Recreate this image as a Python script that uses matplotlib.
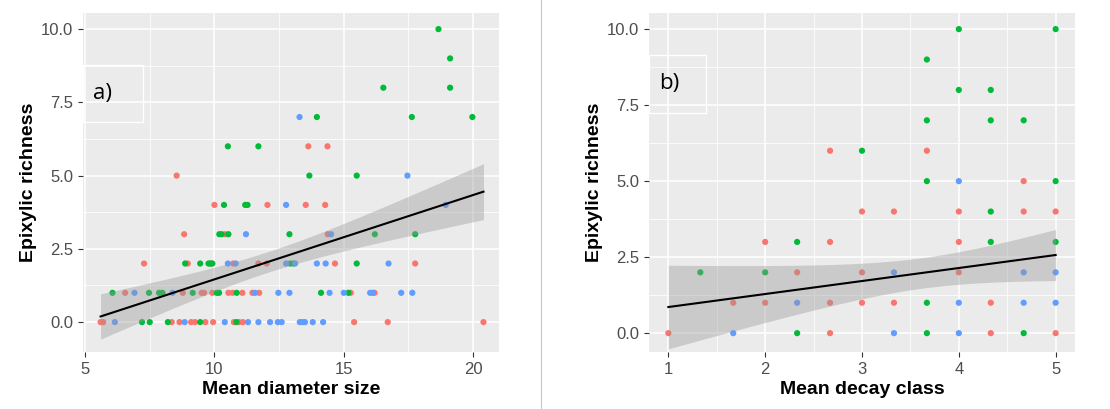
import matplotlib.pyplot as plt
from matplotlib.lines import Line2D
from matplotlib.patches import Rectangle
import numpy as np

RED, GREEN, BLUE = '#F8766D', '#00BA38', '#619CFF'

# panel a) - mean diameter size vs epixylic richness, per colour group
diam_red = [5.6, 5.7, 8.35, 8.65, 9.1, 9.25, 9.65, 9.95, 10.75, 10.95, 11.1, 15.4, 16.7, 20.4,
            6.55, 8.78, 9.51, 9.6, 9.92, 10.54, 10.7, 11.08, 11.47, 11.73, 15.27, 16.19,
            7.28, 8.97, 9.88, 10.73, 11.7, 12.02, 14.66, 17.76,
            8.83, 10.41, 14.38,
            10.0, 12.05, 13.53, 14.28,
            8.54, 13.63, 14.37]
rich_red = [0] * 14 + [1] * 12 + [2] * 8 + [3] * 3 + [4] * 4 + [5] + [6] * 2

diam_green = [7.2, 7.5, 8.2, 9.45, 10.85,
              6.06, 7.47, 7.86, 7.99, 9.16, 10.09, 10.18, 10.86, 14.12, 15.18,
              8.87, 9.45, 9.77, 9.83, 9.92, 12.93, 13.05, 15.5,
              10.19, 10.28, 10.54, 12.9, 16.2, 17.76,
              10.37, 11.19, 11.28,
              13.67, 15.5,
              10.52, 11.7,
              13.96, 17.63, 19.97,
              16.53, 19.11,
              19.11,
              18.66]
rich_green = ([0] * 5 + [1] * 10 + [2] * 8 + [3] * 6 + [4] * 3 + [5] * 2 + [6] * 2
              + [7] * 3 + [8] * 2 + [9] + [10])

diam_blue = [6.15, 8.85, 10.4, 11.3, 11.7, 12.15, 12.45, 12.6, 13.3, 13.4, 13.5, 13.8, 14.2,
             6.91, 8.38, 11.57, 12.47, 12.9, 14.45, 15.0, 16.02, 16.12, 17.22, 17.65,
             10.52, 10.82, 12.77, 13.12, 13.96, 14.3, 16.73,
             11.22, 14.51,
             12.77, 18.94,
             17.46,
             13.29]
rich_blue = [0] * 13 + [1] * 11 + [2] * 7 + [3] * 2 + [4] * 2 + [5] + [7]

# panel b) - mean decay class vs epixylic richness
# n2_* = estimated number of overlapping observations behind each visible dot
decay_red = [1, 2.67, 4.33, 5, 1.67, 2, 2.67, 3, 3.33, 4.33, 2.33, 3, 4, 2, 2.67, 4,
             3, 3.33, 4, 4.67, 5, 4.67, 2.67, 3.67]
rich2_red = [0, 0, 0, 0, 1, 1, 1, 1, 1, 1, 2, 2, 2, 3, 3, 3, 4, 4, 4, 4, 4, 5, 6, 6]
n2_red = [2, 4, 4, 4, 1, 2, 3, 1, 3, 4, 1, 1, 1, 1, 1, 1, 1, 1, 1, 1, 1, 1, 1, 1]

decay_green = [2.33, 3.67, 4.67, 3.67, 1.33, 2, 2.33, 4.33, 5, 4.33, 3.67, 5, 3,
               3.67, 4.33, 4.67, 4, 4.33, 3.67, 4, 5]
rich2_green = [0, 0, 0, 1, 2, 2, 3, 3, 3, 4, 5, 5, 6, 7, 7, 7, 8, 8, 9, 10, 10]
n2_green = [1, 4, 4, 4, 1, 1, 1, 1, 1, 1, 1, 1, 1, 1, 1, 1, 1, 1, 1, 1, 1]

decay_blue = [1.67, 3.33, 4, 2.33, 4, 4.67, 5, 3.33, 4.67, 5, 4]
rich2_blue = [0, 0, 0, 1, 1, 1, 1, 2, 2, 2, 5]
n2_blue = [3, 3, 4, 1, 5, 3, 1, 1, 1, 1, 1]


def lm_ribbon(x, y, t=1.98):
    """OLS fit with a 95% confidence band, like geom_smooth(method='lm')."""
    x, y = np.asarray(x, float), np.asarray(y, float)
    b, a = np.polyfit(x, y, 1)
    resid = y - (a + b * x)
    s = np.sqrt(np.sum(resid ** 2) / (len(x) - 2))
    xs = np.linspace(x.min(), x.max(), 100)
    se = s * np.sqrt(1 / len(x) + (xs - x.mean()) ** 2 / np.sum((x - x.mean()) ** 2))
    fit = a + b * xs
    return xs, fit, fit - t * se, fit + t * se


def panel(ax, groups, xlim, ylim, xmajor, xminor, xlabel, tag, tagbox):
    ax.set_facecolor('#EBEBEB')
    for s in ax.spines.values():
        s.set_visible(False)
    ax.set_xlim(xlim)
    ax.set_ylim(ylim)
    ax.set_xticks(xmajor)
    ax.set_xticks(xminor, minor=True)
    ax.set_yticks([0, 2.5, 5, 7.5, 10])
    ax.set_yticklabels(['0.0', '2.5', '5.0', '7.5', '10.0'])
    ax.set_yticks([1.25, 3.75, 6.25, 8.75], minor=True)
    ax.grid(which='major', color='white', lw=1.1)
    ax.grid(which='minor', color='white', lw=0.55)
    ax.set_axisbelow(True)
    ax.tick_params(which='major', length=3.5, width=0.8, color='#333333',
                   labelcolor='#4D4D4D', labelsize=12)
    ax.tick_params(which='minor', length=0)

    fit_x, fit_y = [], []
    for x, y, c, n in groups:
        ax.scatter(x, y, s=20, color=c, edgecolors='none', zorder=3)
        reps = n if n is not None else [1] * len(x)
        fit_x.append(np.repeat(x, reps))
        fit_y.append(np.repeat(y, reps))

    xs, fit, lo, hi = lm_ribbon(np.concatenate(fit_x), np.concatenate(fit_y))
    ax.fill_between(xs, lo, hi, color='#999999', alpha=0.4, lw=0, zorder=4)
    ax.plot(xs, fit, color='black', lw=1.5, zorder=5)

    ax.set_xlabel(xlabel, fontsize=14, fontweight='bold', labelpad=3)
    ax.set_ylabel('Epixylic richness', fontsize=14, fontweight='bold', labelpad=3)

    fig = ax.figure
    x0, y0, w, h = tagbox
    fig.add_artist(Rectangle((x0, y0), w, h, transform=fig.transFigure,
                             fill=False, edgecolor='white', lw=1))
    fig.text(x0 + 0.009, y0 + h / 2, tag, fontsize=16, family='Open Sans',
             va='center', ha='left')


plt.rcParams['font.family'] = ['Liberation Sans', 'DejaVu Sans']

fig = plt.figure(figsize=(11.1, 4.09), dpi=100)
W, H = 1110, 409

ax1 = fig.add_axes([83 / W, 1 - 352 / H, 416 / W, 339 / H])
panel(ax1,
      [(diam_red, rich_red, RED, None), (diam_green, rich_green, GREEN, None),
       (diam_blue, rich_blue, BLUE, None)],
      (4.92, 21.0), (-1.02, 10.55), [5, 10, 15, 20], [7.5, 12.5, 17.5],
      'Mean diameter size', 'a)', (83 / W, 1 - 122 / H, 60 / W, 57 / H))

ax2 = fig.add_axes([649 / W, 1 - 352 / H, 426 / W, 339 / H])
panel(ax2,
      [(decay_red, rich2_red, RED, n2_red), (decay_green, rich2_green, GREEN, n2_green),
       (decay_blue, rich2_blue, BLUE, n2_blue)],
      (0.8, 5.2), (-0.62, 10.53), [1, 2, 3, 4, 5], [1.5, 2.5, 3.5, 4.5],
      'Mean decay class', 'b)', (649 / W, 1 - 113 / H, 57 / W, 58 / H))

fig.add_artist(Line2D([541 / W, 541 / W], [0, 1], transform=fig.transFigure,
                      color='#C8C8C8', lw=0.8))

fig.savefig('out.png', dpi=100)
